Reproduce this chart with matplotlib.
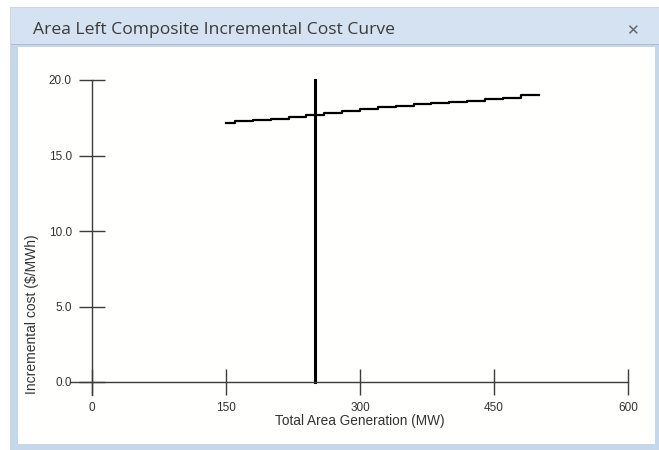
import matplotlib.pyplot as plt
from matplotlib.patches import Rectangle

# incremental cost curve (MW, $/MWh), stepwise
gen_mw = [150, 160, 180, 200, 220, 240, 260, 280, 300, 320, 340, 360, 380, 400, 420, 440, 460, 480, 500]
cost = [17.13, 17.28, 17.35, 17.44, 17.57, 17.68, 17.84, 17.97, 18.08, 18.23, 18.30, 18.38, 18.45, 18.52, 18.63, 18.72, 18.83, 19.00, 19.00]

# current operating point
op_mw = 250
op_cost_range = [0.0, 20.0]

x_ticks = [0, 150, 300, 450, 600]
y_ticks = [0.0, 5.0, 10.0, 15.0, 20.0]

W, H = 659, 450
fig = plt.figure(figsize=(W / 100, H / 100), dpi=100)
fig.patch.set_facecolor("white")

def px(x, y, w, h):
    # pixel box (top-left origin) -> figure fraction
    return (x / W, 1 - (y + h) / H, w / W, h / H)

def box(x, y, w, h, color):
    l, b, ww, hh = px(x, y, w, h)
    fig.patches.append(Rectangle((l, b), ww, hh, transform=fig.transFigure,
                                 facecolor=color, edgecolor="none", zorder=-5))

# window frame
box(10, 7, 649, 443, "#c6d7eb")
box(11, 8, 648, 37, "#d5e2f2")
box(11, 44, 648, 1, "#a9bed8")
box(18, 47, 637, 397, "#fffffd")

fig.text(33 / W, 1 - 30 / H, "Area Left Composite Incremental Cost Curve",
         fontsize=12.6, family="Open Sans", color="#3a3a3a", va="center", ha="left")
fig.text(632 / W, 1 - 31 / H, "\u2715", fontsize=11, color="#666666",
         va="center", ha="center", fontweight="bold")

# plot area: x 0..600 -> px 92..628, y 0..20 -> px 382..80
x_left = -25
y_bottom = -0.86
x0_px, x600_px = 92, 628
y0_px, y20_px = 382, 80
sx = (x600_px - x0_px) / 600
sy = (y0_px - y20_px) / 20
ax_left = x0_px + x_left * sx
ax_bottom = y0_px - y_bottom * sy
ax = fig.add_axes(px(ax_left, y20_px, x600_px - ax_left, ax_bottom - y20_px))
ax.set_zorder(5)
ax.set_facecolor("none")
ax.set_xlim(x_left, 600)
ax.set_ylim(y_bottom, 20)

ax.plot(gen_mw, cost, drawstyle="steps-post", color="black", lw=1.6, clip_on=False)
ax.plot([op_mw, op_mw], op_cost_range, color="black", lw=2.2, clip_on=False)

for s in ["top", "right"]:
    ax.spines[s].set_visible(False)
ax.spines["left"].set_position(("data", 0))
ax.spines["bottom"].set_position(("data", 0))
for s in ["left", "bottom"]:
    ax.spines[s].set_color("#3c3c3c")
    ax.spines[s].set_linewidth(1.0)

ax.set_xticks(x_ticks)
ax.set_xticklabels([str(v) for v in x_ticks])
ax.set_yticks(y_ticks)
ax.set_yticklabels([f"{v:.1f}" for v in y_ticks])
ax.tick_params(direction="inout", length=19, width=1.0, color="#3c3c3c",
               labelsize=8.5, labelcolor="#333333", labelfontfamily="Liberation Sans")
ax.tick_params(axis="x", pad=5)
ax.tick_params(axis="y", pad=5)

fig.text(360 / W, 1 - 421 / H, "Total Area Generation (MW)", fontsize=9.8,
         family="Liberation Sans", color="#333333", ha="center", va="center")
fig.text(32 / W, 1 - 314 / H, "Incremental cost ($/MWh)", fontsize=10,
         family="Liberation Sans", color="#333333", ha="center", va="center", rotation=90)

fig.savefig("out.png", dpi=100)
